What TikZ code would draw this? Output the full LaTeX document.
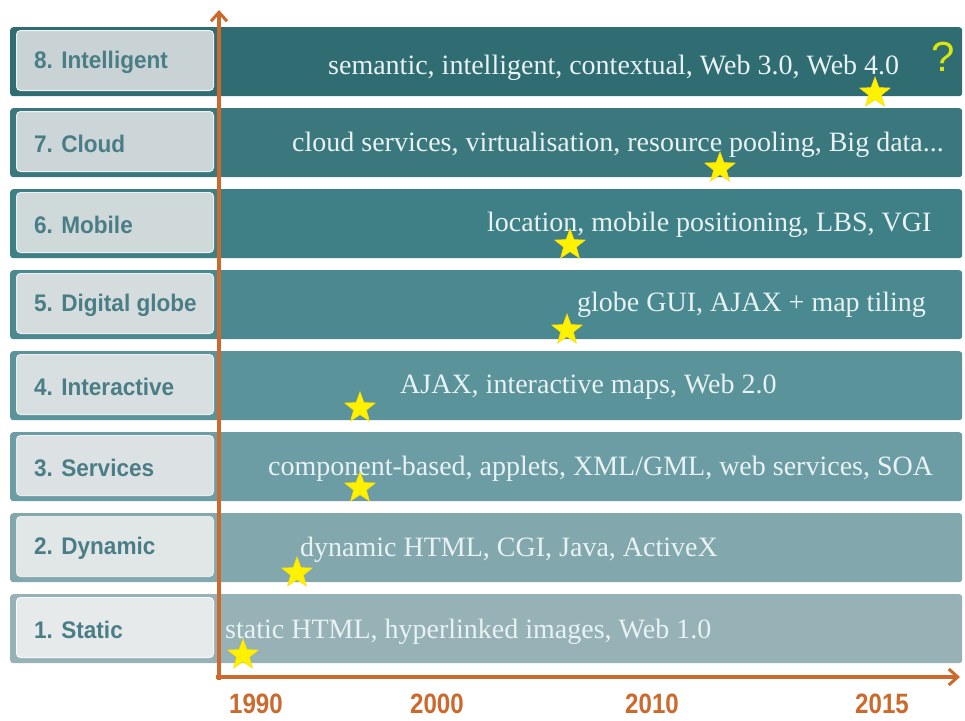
\documentclass[tikz,border=0pt]{standalone}
\usepackage{fontspec}
\setmainfont{Liberation Serif}
\setsansfont{Liberation Sans}
\usetikzlibrary{shapes.geometric,arrows.meta}
\definecolor{axis}{HTML}{CC6A2E}
\definecolor{lbltext}{HTML}{4A7D85}
\definecolor{bandtext}{HTML}{E8F2F3}
\definecolor{bandA}{HTML}{2F6D73}
\definecolor{bandB}{HTML}{3A787E}
\definecolor{bandC}{HTML}{3F8087}
\definecolor{bandD}{HTML}{4A8990}
\definecolor{bandE}{HTML}{5A939A}
\definecolor{bandF}{HTML}{6C9DA4}
\definecolor{bandG}{HTML}{82A8AE}
\definecolor{bandH}{HTML}{97B2B7}
\definecolor{boxA}{HTML}{C9D3D5}
\definecolor{boxH}{HTML}{E6EAEB}
\newcommand{\lblfmt}[1]{\scalebox{0.94}[1]{#1}}
\newcommand{\yrfmt}[1]{\scalebox{0.86}[1]{#1}}
\tikzset{
  band/.style={rectangle, rounded corners=3pt, minimum width=952pt, minimum height=69pt, inner sep=0pt, anchor=north west},
  lblbox/.style={rectangle, rounded corners=4pt, minimum width=197pt, minimum height=60pt, inner sep=0pt, anchor=north west},
  lbltxt/.style={anchor=west, text=lbltext, inner sep=0pt, font=\sffamily\bfseries\fontsize{24}{26}\selectfont},
  bandtxt/.style={anchor=base west, text=bandtext, font=\fontsize{28}{30}\selectfont, inner sep=0pt},
  starmark/.style={star, star points=5, star point ratio=2.4, minimum size=32pt, inner sep=0pt, fill=yellow, draw=yellow!80!orange, line width=0.6pt},
  yearlbl/.style={text=axis, inner sep=0pt, font=\sffamily\bfseries\fontsize{28}{30}\selectfont},
  axisline/.style={draw=axis, line width=3.5pt, -{Straight Barb[length=9pt,width=16pt,line width=3pt]}}
}
\begin{document}
\begin{tikzpicture}[x=1pt,y=-1pt]
\useasboundingbox (0,0) rectangle (965,720);
\fill[white] (0,0) rectangle (965,720);
% bands
\foreach \k/\c/\b in {8/bandA/boxA,7/bandB/boxA!88!boxH,6/bandC/boxA!76!boxH,5/bandD/boxA!62!boxH,4/bandE/boxA!48!boxH,3/bandF/boxA!34!boxH,2/bandG/boxA!18!boxH,1/bandH/boxH}{
  \pgfmathsetmacro{\t}{27+81*(8-\k)}
  \node[band, fill=\c] (band\k) at (10,\t) {};
  \node[lblbox, fill=\b, draw=white!70!\b, line width=1pt] (box\k) at (16,\t+3) {};
}
% labels
\node[lbltxt] (l8) at ([xshift=18pt,yshift=-2pt]box8.west) {\lblfmt{8. Intelligent}};
\node[lbltxt] (l7) at ([xshift=18pt,yshift=-2pt]box7.west) {\lblfmt{7. Cloud}};
\node[lbltxt] (l6) at ([xshift=18pt,yshift=-2pt]box6.west) {\lblfmt{6. Mobile}};
\node[lbltxt] (l5) at ([xshift=18pt,yshift=-2pt]box5.west) {\lblfmt{5. Digital globe}};
\node[lbltxt] (l4) at ([xshift=18pt,yshift=-2pt]box4.west) {\lblfmt{4. Interactive}};
\node[lbltxt] (l3) at ([xshift=18pt,yshift=-2pt]box3.west) {\lblfmt{3. Services}};
\node[lbltxt] (l2) at ([xshift=18pt,yshift=-2pt]box2.west) {\lblfmt{2. Dynamic}};
\node[lbltxt] (l1) at ([xshift=18pt,yshift=-2pt]box1.west) {\lblfmt{1. Static}};
% band texts
\node[bandtxt] (t8) at (328,74) {semantic, intelligent, contextual, Web 3.0, Web 4.0};
\node[bandtxt] (t7) at (292,151) {cloud services, virtualisation, resource pooling, Big data...};
\node[bandtxt] (t6) at (487,231) {location, mobile positioning, LBS, VGI};
\node[bandtxt] (t5) at (577,311) {globe GUI, AJAX + map tiling};
\node[bandtxt] (t4) at (400,393) {AJAX, interactive maps, Web 2.0};
\node[bandtxt] (t3) at (268,475) {component-based, applets, XML/GML, web services, SOA};
\node[bandtxt] (t2) at (300,556) {dynamic HTML, CGI, Java, ActiveX};
\node[bandtxt] (t1) at (225,638) {static HTML, hyperlinked images, Web 1.0};
\node[text=yellow!85!green, font=\sffamily\fontsize{42}{44}\selectfont] (q) at (943,57) {?};
% axes
\coordinate (origin) at (219,677);
\coordinate (ytop) at (219,10);
\coordinate (xend) at (960,677);
\draw[axisline] (219,680) -- (ytop);
\draw[axisline] (216,677) -- (xend);
% stars
\node[starmark] (s8) at (875,93) {};
\node[starmark] (s7) at (720,168) {};
\node[starmark] (s6) at (570,245) {};
\node[starmark] (s5) at (567,330) {};
\node[starmark] (s4) at (360,408) {};
\node[starmark] (s3) at (360,488) {};
\node[starmark] (s2) at (297,573) {};
\node[starmark] (s1) at (243,655) {};
% years
\node[yearlbl] (y1990) at (256,704) {\yrfmt{1990}};
\node[yearlbl] (y2000) at (437,704) {\yrfmt{2000}};
\node[yearlbl] (y2010) at (652,704) {\yrfmt{2010}};
\node[yearlbl] (y2015) at (882,704) {\yrfmt{2015}};
\end{tikzpicture}
\end{document}
